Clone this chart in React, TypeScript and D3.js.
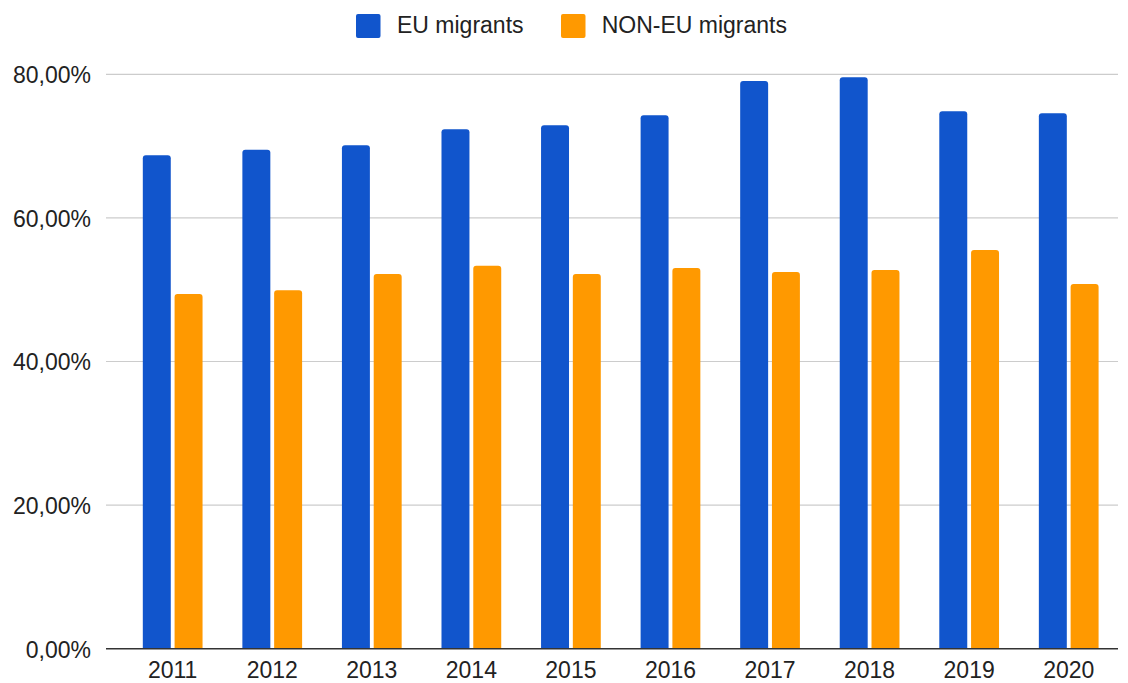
import React from "react";
import * as d3 from "d3";

const years = ["2011", "2012", "2013", "2014", "2015", "2016", "2017", "2018", "2019", "2020"];
const euValues = [68.72, 69.5, 70.11, 72.34, 72.9, 74.29, 79.07, 79.58, 74.85, 74.57];
const nonEuValues = [49.4, 49.92, 52.19, 53.34, 52.19, 53.02, 52.47, 52.74, 55.53, 50.79];
const seriesNames = ["EU migrants", "NON-EU migrants"];
const seriesColors = ["#1155cc", "#ff9900"];
const yTicks = [0, 20, 40, 60, 80];

const W = 1128;
const H = 683;
const FONT = "'Liberation Sans', Arial, Helvetica, sans-serif";

function topRounded(x: number, y: number, w: number, h: number, r: number) {
  const rr = Math.min(r, h / 2, w / 2);
  return `M${x},${y + h}V${y + rr}Q${x},${y} ${x + rr},${y}H${x + w - rr}Q${x + w},${y} ${x + w},${y + rr}V${y + h}Z`;
}

export default function App() {
  const y = d3.scaleLinear().domain([0, 80]).range([648.7, 74.3]);
  const x0 = d3.scaleBand<string>().domain(years).range([122.9, 1118.5]).paddingInner(0.4).paddingOuter(0.2);
  const x1 = d3.scaleBand<string>().domain(seriesNames).range([0, x0.bandwidth()]).paddingInner(0.12);
  const values = [euValues, nonEuValues];
  const fmt = (v: number) => d3.format(".2f")(v).replace(".", ",") + "%";

  return (
    <svg width={W} height={H} style={{ position: "absolute", left: 0, top: 0, background: "#fff" }} fontFamily={FONT}>
      {/* legend */}
      <g>
        <rect x={356} y={14} width={24.5} height={24} rx={2} fill={seriesColors[0]} />
        <text x={397} y={33.3} fontSize={23} fill="#222">{seriesNames[0]}</text>
        <rect x={561} y={14} width={24.5} height={24} rx={2} fill={seriesColors[1]} />
        <text x={601.7} y={33.3} fontSize={23} fill="#222">{seriesNames[1]}</text>
      </g>
      {/* gridlines and y labels */}
      {yTicks.map((t) => (
        <g key={t}>
          {t !== 0 && <line x1={106} x2={1118} y1={y(t)} y2={y(t)} stroke="#cccccc" strokeWidth={1.2} />}
          <text x={91} y={y(t) + 8.8} textAnchor="end" fontSize={23} fill="#222">{fmt(t)}</text>
        </g>
      ))}
      {/* bars */}
      {years.map((yr, i) => (
        <g key={yr}>
          {seriesNames.map((s, j) => {
            const v = values[j][i];
            const bx = (x0(yr) ?? 0) + (x1(s) ?? 0);
            const by = y(v);
            return <path key={s} d={topRounded(bx, by, x1.bandwidth(), y(0) - by, 3)} fill={seriesColors[j]} />;
          })}
          <text x={(x0(yr) ?? 0) + x0.bandwidth() / 2} y={678.3} textAnchor="middle" fontSize={23} fill="#222">{yr}</text>
        </g>
      ))}
      <line x1={106} x2={1118} y1={y(0)} y2={y(0)} stroke="#333" strokeWidth={1.5} />
    </svg>
  );
}
